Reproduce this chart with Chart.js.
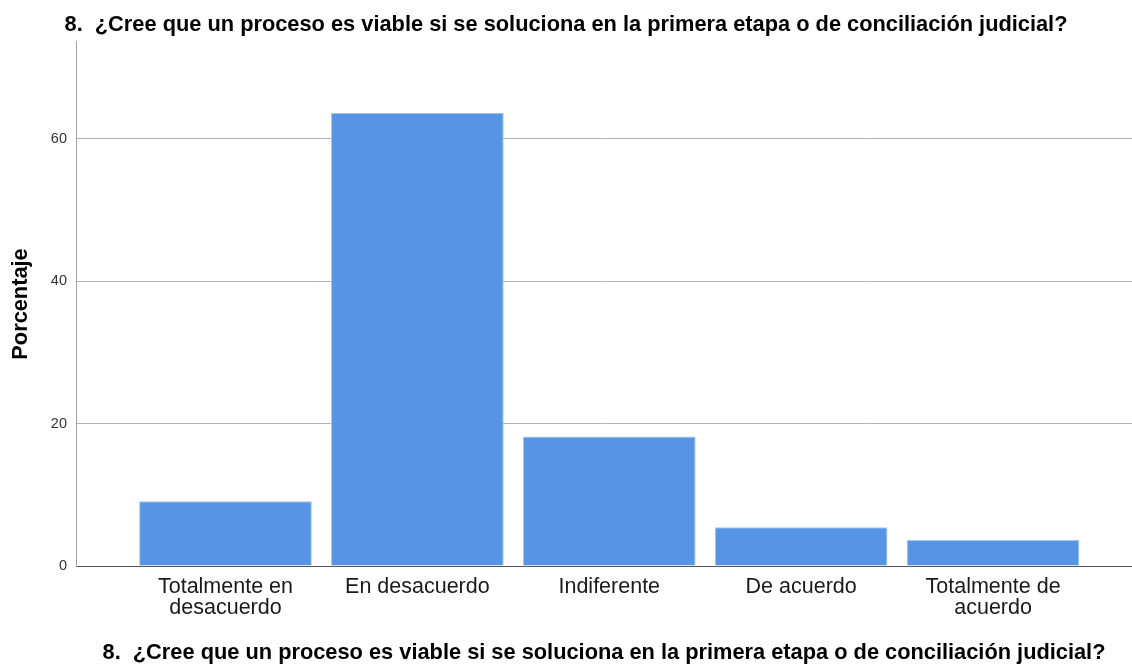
<!DOCTYPE html>
<html>
<head>
<meta charset="utf-8">
<script src="https://cdn.jsdelivr.net/npm/chart.js@4/dist/chart.umd.min.js"></script>
<style>
  html, body { margin: 0; padding: 0; background: #ffffff; }
  #wrap { width: 1132px; height: 666px; position: relative; }
</style>
</head>
<body>
<div id="wrap"><canvas id="c" width="1132" height="666"></canvas></div>
<script>
// ---- data ----
const chartTitle = "8.  ¿Cree que un proceso es viable si se soluciona en la primera etapa o de conciliación judicial?";
const categories = [
  ["Totalmente en", "desacuerdo"],
  ["En desacuerdo"],
  ["Indiferente"],
  ["De acuerdo"],
  ["Totalmente de", "acuerdo"]
];
const percentages = [9.09, 63.64, 18.18, 5.45, 3.64];
const yTickValues = [0, 20, 40, 60];
const yAxisTitle = "Porcentaje";
const xAxisTitle = chartTitle;

// ---- chart ----
const FONT = "'Liberation Sans', Arial, Helvetica, sans-serif";
const points = percentages.map((v, i) => ({ x: i, y: v }));

new Chart(document.getElementById('c'), {
  type: 'bar',
  data: {
    datasets: [{
      data: points,
      backgroundColor: '#5595e4',
      borderColor: '#a3c5f0',
      borderWidth: 1,
      categoryPercentage: 1.0,
      barPercentage: 0.9
    }]
  },
  options: {
    responsive: false,
    animation: false,
    devicePixelRatio: 1,
    layout: { padding: 0 },
    plugins: {
      legend: { display: false },
      tooltip: { enabled: false },
      title: {
        display: true,
        text: chartTitle,
        color: '#000000',
        font: { family: FONT, size: 21.8, weight: 'bold', lineHeight: 1.2 },
        padding: { top: 12.4, bottom: 3.4 }
      }
    },
    scales: {
      x: {
        type: 'linear',
        min: -0.779,
        max: 4.724,
        offset: false,
        afterBuildTicks: (s) => { s.ticks = categories.map((c, i) => ({ value: i })); },
        afterFit: (s) => { s.height = 100; },
        ticks: {
          autoSkip: false,
          maxRotation: 0,
          padding: 10,
          color: '#1a1a1a',
          font: { family: FONT, size: 21.5, lineHeight: 1.0 },
          callback: (v, i) => categories[i]
        },
        grid: { display: false, drawTicks: false },
        border: { display: true, color: '#555555', width: 1 },
        title: {
          display: true,
          text: xAxisTitle,
          color: '#000000',
          font: { family: FONT, size: 21.8, weight: 'bold', lineHeight: 1.2 },
          padding: { top: 0, bottom: 0 }
        }
      },
      y: {
        type: 'linear',
        min: 0,
        max: 73.6,
        afterBuildTicks: (s) => { s.ticks = yTickValues.map(v => ({ value: v })); },
        afterFit: (s) => { s.width = 76; },
        ticks: {
          padding: 9,
          color: '#333333',
          font: { family: FONT, size: 14.5 },
          callback: (v) => String(v)
        },
        grid: {
          drawTicks: false,
          color: (ctx) => (ctx.tick && ctx.tick.value === 0) ? '#555555' : '#b4b4b4',
          lineWidth: 1
        },
        border: { display: true, color: '#a0a0a0', width: 1 },
        title: {
          display: true,
          text: yAxisTitle,
          color: '#000000',
          font: { family: FONT, size: 21.8, weight: 'bold', lineHeight: 1.2 },
          padding: { top: 8, bottom: 0 }
        }
      }
    }
  }
});
</script>
</body>
</html>
